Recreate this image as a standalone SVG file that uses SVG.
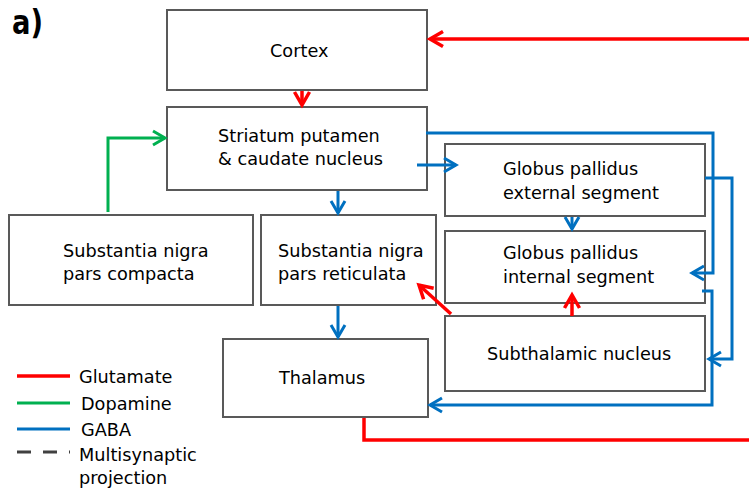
<svg xmlns="http://www.w3.org/2000/svg" width="749" height="494" viewBox="0 0 749 494">
<defs>
<style>
.box{fill:#fff;stroke:#595959;stroke-width:2}
.t{font-family:"DejaVu Sans",Verdana,sans-serif;font-size:17.7px;fill:#000}
.r{fill:none;stroke:#FF0000;stroke-width:3.5}
.g{fill:none;stroke:#00B050;stroke-width:3}
.b{fill:none;stroke:#0070C0;stroke-width:3}
</style>
<marker id="ar" viewBox="-16 -10 20 20" markerWidth="20" markerHeight="20" refX="0" refY="0" orient="auto" markerUnits="userSpaceOnUse"><path d="M-13,-7.5 L0,0 L-13,7.5" fill="none" stroke="#FF0000" stroke-width="3.5"/></marker>
<marker id="ag" viewBox="-16 -10 20 20" markerWidth="20" markerHeight="20" refX="0" refY="0" orient="auto" markerUnits="userSpaceOnUse"><path d="M-12,-7 L0,0 L-12,7" fill="none" stroke="#00B050" stroke-width="3"/></marker>
<marker id="ab" viewBox="-16 -10 20 20" markerWidth="20" markerHeight="20" refX="0" refY="0" orient="auto" markerUnits="userSpaceOnUse"><path d="M-12,-7 L0,0 L-12,7" fill="none" stroke="#0070C0" stroke-width="3"/></marker>
</defs>
<rect width="749" height="494" fill="#fff"/>
<text x="12" y="34" font-family="DejaVu Sans,Verdana,sans-serif" font-weight="bold" font-size="33" textLength="31" lengthAdjust="spacingAndGlyphs">a)</text>

<g id="cortex"><rect class="box" x="167" y="10" width="260" height="80"/><text class="t" x="270" y="57">Cortex</text></g>
<g id="striatum"><rect class="box" x="167" y="107" width="260" height="83"/><text class="t" x="218" y="142">Striatum putamen</text><text class="t" x="218" y="165">&amp; caudate nucleus</text></g>
<g id="snc"><rect class="box" x="9" y="215" width="244" height="90"/><text class="t" x="63" y="257">Substantia nigra</text><text class="t" x="63" y="280">pars compacta</text></g>
<g id="snr"><rect class="box" x="261" y="215" width="175" height="90"/><text class="t" x="278" y="257">Substantia nigra</text><text class="t" x="278" y="280">pars reticulata</text></g>
<g id="gpe"><rect class="box" x="445" y="144" width="260" height="72"/><text class="t" x="503" y="175">Globus pallidus</text><text class="t" x="503" y="199">external segment</text></g>
<g id="gpi"><rect class="box" x="445" y="231" width="260" height="72"/><text class="t" x="503" y="259">Globus pallidus</text><text class="t" x="503" y="283">internal segment</text></g>
<g id="stn"><rect class="box" x="445" y="316" width="260" height="75"/><text class="t" x="487" y="360">Subthalamic nucleus</text></g>
<g id="thalamus"><rect class="box" x="223" y="339" width="205" height="78"/><text class="t" x="279" y="384">Thalamus</text></g>

<g id="connectors">
<path class="r" d="M749,39 H430" marker-end="url(#ar)"/>
<path class="r" d="M302,91 V105" marker-end="url(#ar)"/>
<path class="g" d="M108,212 V138 H165" marker-end="url(#ag)"/>
<path class="b" d="M338,191 V213" marker-end="url(#ab)"/>
<path class="b" d="M417,165 H456" marker-end="url(#ab)"/>
<path class="b" d="M426,133 H713 V273 H692" marker-end="url(#ab)"/>
<path class="b" d="M705,178 H732 V359 H709" marker-end="url(#ab)"/>
<path class="b" d="M702,291 H712 V405 H430" marker-end="url(#ab)"/>
<path class="b" d="M572,217 V229" marker-end="url(#ab)"/>
<path class="r" d="M572,316 V295" marker-end="url(#ar)"/>
<path class="r" d="M451,314 L419,285" marker-end="url(#ar)"/>
<path class="b" d="M338,306 V337" marker-end="url(#ab)"/>
<path class="r" d="M364,418 V440 H749"/>
</g>

<g id="legend">
<line x1="17" y1="376" x2="70" y2="376" stroke="#FF0000" stroke-width="3.5"/>
<line x1="17" y1="403" x2="70" y2="403" stroke="#00B050" stroke-width="3"/>
<line x1="17" y1="429" x2="70" y2="429" stroke="#0070C0" stroke-width="3"/>
<line x1="17" y1="452" x2="70" y2="452" stroke="#404040" stroke-width="3" stroke-dasharray="14 12"/>
<text class="t" x="79" y="383">Glutamate</text>
<text class="t" x="81" y="410">Dopamine</text>
<text class="t" x="81" y="436">GABA</text>
<text class="t" x="79" y="461">Multisynaptic</text>
<text class="t" x="79" y="484">projection</text>
</g>
</svg>
